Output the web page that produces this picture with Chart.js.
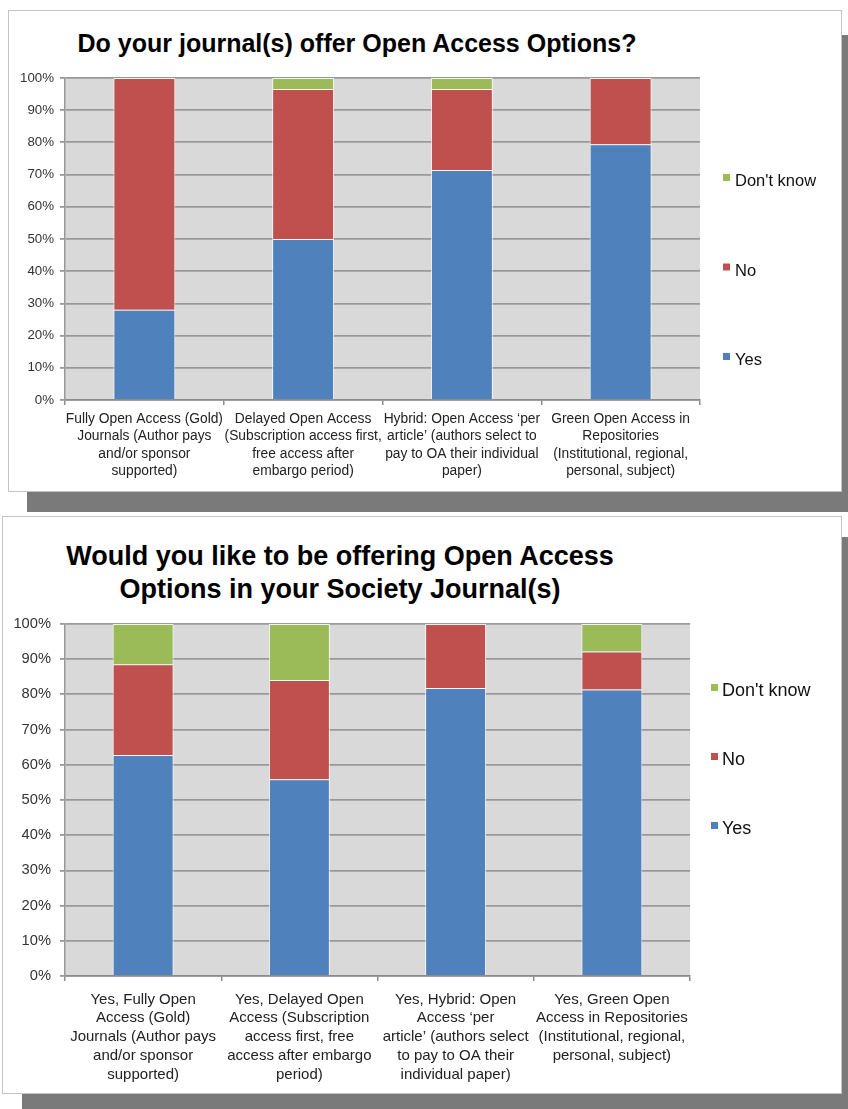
<!DOCTYPE html>
<html>
<head>
<meta charset="utf-8">
<title>Open Access Options</title>
<script src="https://cdn.jsdelivr.net/npm/chart.js@4.4.0/dist/chart.umd.min.js"></script>
<style>
  body {
    margin: 0;
    width: 848px;
    height: 1109px;
    background: #fff;
    position: relative;
    overflow: hidden;
    font-family: "Liberation Sans", Arial, sans-serif;
  }
  .shadow { position: absolute; background: #7a7a7a; }
  .panel { position: absolute; background: #fff; border: 1px solid #c4c4c4; box-sizing: border-box; }
  .title { position: absolute; font-weight: bold; color: #000; text-align: center; white-space: nowrap; }
  .box { position: absolute; }
</style>
</head>
<body>

<div class="shadow" style="left:27px; top:35px; width:821px; height:477px;"></div>
<div class="panel" style="left:8px; top:10px; width:834px; height:482px;"></div>
<div class="title" style="left:57px; top:28px; width:600px; font-size:25px; line-height:30px;">Do your journal(s) offer Open Access Options?</div>
<div class="box" style="left:9px; top:11px; width:832px; height:480px;"><canvas id="offerChart"></canvas></div>

<div class="shadow" style="left:22px; top:537px; width:826px; height:572px;"></div>
<div class="panel" style="left:2px; top:516px; width:840px; height:578px;"></div>
<div class="title" style="left:40px; top:540px; width:600px; font-size:27px; line-height:33px;">Would you like to be offering Open Access<br>Options in your Society Journal(s)</div>
<div class="box" style="left:3px; top:517px; width:838px; height:576px;"><canvas id="wantChart"></canvas></div>

<script>
// ---- data: "Do your journal(s) offer Open Access Options?"
const offerCategories = [
  ["Fully Open Access (Gold)", "Journals (Author pays", "and/or sponsor", "supported)"],
  ["Delayed Open Access", "(Subscription access first,", "free access after", "embargo period)"],
  ["Hybrid: Open Access \u2018per", "article\u2019 (authors select to", "pay to OA their individual", "paper)"],
  ["Green Open Access in", "Repositories", "(Institutional, regional,", "personal, subject)"]
];
const offerYes = [28.0, 50.0, 71.4, 79.4];
const offerNo = [72.0, 46.6, 25.2, 20.6];
const offerDontKnow = [0, 3.4, 3.4, 0];

// ---- data: "Would you like to be offering Open Access Options..."
const wantCategories = [
  ["Yes, Fully Open", "Access (Gold)", "Journals (Author pays", "and/or sponsor", "supported)"],
  ["Yes, Delayed Open", "Access (Subscription", "access first, free", "access after embargo", "period)"],
  ["Yes, Hybrid: Open", "Access \u2018per", "article\u2019 (authors select", "to pay to OA their", "individual paper)"],
  ["Yes, Green Open", "Access in Repositories", "(Institutional, regional,", "personal, subject)"]
];
const wantYes = [62.8, 55.9, 81.8, 81.4];
const wantNo = [25.8, 28.2, 18.2, 10.8];
const wantDontKnow = [11.4, 15.9, 0, 7.8];

const yTicks = [0, 10, 20, 30, 40, 50, 60, 70, 80, 90, 100];

const BLUE = "#4f81bd";
const RED = "#c0504d";
const GREEN = "#9bbb59";

// grey plot background
const plotBg = {
  id: "plotBg",
  beforeDraw(chart) {
    const { ctx, chartArea: a } = chart;
    ctx.save();
    ctx.fillStyle = "#d9d9d9";
    ctx.fillRect(a.left, a.top, a.width, a.height);
    ctx.restore();
  }
};

// legend on the right, spaced like the original (Don't know on top)
const sideLegend = {
  id: "sideLegend",
  afterDraw(chart, args, opts) {
    const { ctx, chartArea: a } = chart;
    ctx.save();
    ctx.font = opts.font;
    ctx.textBaseline = "alphabetic";
    chart.data.datasets.slice().reverse().forEach((ds, i) => {
      const base = a.top + opts.top + i * opts.gap;
      ctx.fillStyle = ds.backgroundColor;
      ctx.fillRect(a.right + opts.left, base - opts.box - 5, opts.box, opts.box);
      ctx.fillStyle = "#111";
      ctx.fillText(ds.label, a.right + opts.left + opts.box + opts.textGap, base);
    });
    ctx.restore();
  }
};

function makeChart(id, labels, yes, no, dk, cfg) {
  const ctx = document.getElementById(id).getContext("2d");
  return new Chart(ctx, {
    type: "bar",
    data: {
      labels: labels,
      datasets: [
        { label: "Yes", data: yes, backgroundColor: BLUE },
        { label: "No", data: no, backgroundColor: RED },
        { label: "Don't know", data: dk, backgroundColor: GREEN }
      ].map((d) => Object.assign(d, {
        borderColor: "rgba(255,255,255,0.85)",
        borderWidth: 1,
        barPercentage: 0.39,
        categoryPercentage: 1
      }))
    },
    options: {
      responsive: true,
      maintainAspectRatio: false,
      animation: false,
      layout: { padding: { top: cfg.top, right: cfg.right, left: 0, bottom: 0 } },
      plugins: {
        legend: { display: false },
        tooltip: { enabled: false },
        sideLegend: cfg.legend
      },
      scales: {
        x: {
          stacked: true,
          afterFit: (scale) => { scale.height = cfg.xHeight; },
          grid: {
            drawOnChartArea: false,
            drawTicks: true,
            tickLength: 5,
            color: "#8c8c8c",
            lineWidth: 1.5
          },
          border: { color: "#8c8c8c", width: 1.5 },
          ticks: {
            color: "#222",
            padding: cfg.xPad,
            maxRotation: 0,
            autoSkip: false,
            font: { family: "Liberation Sans", size: cfg.xFont, lineHeight: cfg.xLine }
          }
        },
        y: {
          stacked: true,
          min: 0,
          max: 100,
          afterFit: (scale) => { scale.width = cfg.yWidth; },
          afterBuildTicks: (scale) => { scale.ticks = yTicks.map((v) => ({ value: v })); },
          grid: { color: "#999", lineWidth: 1.8, tickLength: 5 },
          border: { color: "#999", width: 1.5 },
          ticks: {
            color: "#333",
            padding: cfg.yPad,
            font: { family: "Liberation Sans", size: cfg.yFont },
            callback: (v) => v + "%"
          }
        }
      }
    },
    plugins: [plotBg, sideLegend]
  });
}

makeChart("offerChart", offerCategories, offerYes, offerNo, offerDontKnow, {
  top: 67, right: 141, xHeight: 91, yWidth: 56,
  xFont: 13.8, xLine: 1.27, xPad: 5, yFont: 13.3, yPad: 6,
  legend: { font: "16.5px 'Liberation Sans'", top: 108, gap: 89.5, left: 23, box: 7, textGap: 5 }
});

makeChart("wantChart", wantCategories, wantYes, wantNo, wantDontKnow, {
  top: 107, right: 151, xHeight: 117, yWidth: 62,
  xFont: 15, xLine: 1.25, xPad: 9, yFont: 14.7, yPad: 9,
  legend: { font: "18px 'Liberation Sans'", top: 72, gap: 69, left: 21, box: 7, textGap: 4 }
});
</script>
</body>
</html>
